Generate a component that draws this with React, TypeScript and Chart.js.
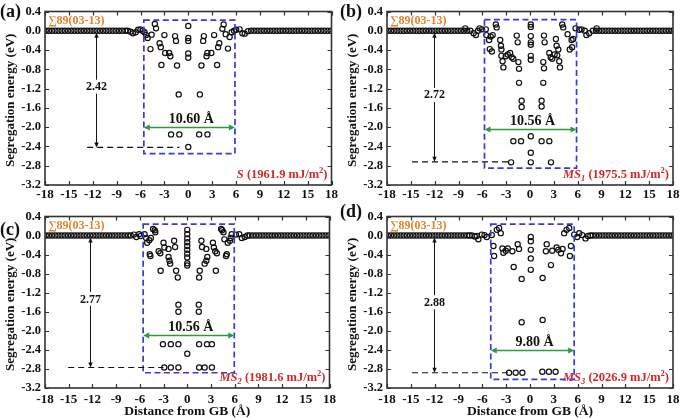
import React, { useEffect, useRef } from "react";
import { Chart, registerables } from "chart.js";
Chart.register(...registerables);

const SERIF = '"Liberation Serif", "Times New Roman", serif';
const BLUE = "#3a3adc";
const GREEN = "#2e9a3c";
const ORANGE = "#e8822a";
const RED = "#d22a2a";

// shared bulk points (far from the GB), energy ~0
const flankLeft: number[][] = [
  [-17.9, 0], [-17.5, 0], [-17.1, 0], [-16.7, 0], [-16.3, 0], [-15.9, 0], [-15.5, 0], [-15.1, 0],
  [-14.7, 0], [-14.3, 0], [-13.9, 0], [-13.5, 0], [-13.1, 0], [-12.7, 0], [-12.3, 0], [-11.9, 0],
  [-11.5, 0], [-11.1, 0], [-10.7, 0], [-10.3, 0], [-9.9, 0], [-9.5, 0], [-9.1, 0], [-8.7, 0],
  [-8.3, 0], [-7.9, 0],
];
const flankRight: number[][] = [
  [7.9, 0], [8.3, 0], [8.7, 0], [9.1, 0], [9.5, 0], [9.9, 0], [10.3, 0], [10.7, 0], [11.1, 0],
  [11.5, 0], [11.9, 0], [12.3, 0], [12.7, 0], [13.1, 0], [13.5, 0], [13.9, 0], [14.3, 0], [14.7, 0],
  [15.1, 0], [15.5, 0], [15.9, 0], [16.3, 0], [16.7, 0], [17.1, 0], [17.5, 0], [17.9, 0],
];

// panel (a) S
const pointsA: number[][] = [
  [-7.6, 0], [-7.25, -0.02], [-6.95, -0.05], [-6.6, -0.03], [-6.3, 0.02], [-6.0, 0.03], [-5.75, 0.0],
  [-5.5, -0.03], [-5.3, -0.09], [-5.1, -0.15], [-4.75, -0.38], [-4.6, -0.08], [-4.2, 0.14], [-4.05, 0.05],
  [-3.6, -0.26], [-3.45, -0.34], [-3.37, -0.71], [-3.0, -0.09], [-2.9, -0.46], [-2.4, -0.46], [-2.25, -0.53],
  [-1.66, -0.11], [-1.54, -0.21], [-1.41, -0.72], [-1.2, -1.32], [-2.16, -2.15], [-1.12, -2.15],
  [0, 0.1], [0, -0.15], [0, -0.21], [0, -0.47], [0, -0.56], [0, -2.41],
  [1.37, -2.15], [2.41, -2.15], [1.46, -1.32], [1.66, -0.72], [1.96, -0.11], [1.87, -0.21],
  [2.3, -0.53], [2.4, -0.46], [2.9, -0.46], [3.25, -0.09], [3.62, -0.71], [3.75, -0.34], [3.9, -0.26],
  [4.45, 0.13], [4.29, 0.04], [4.7, -0.07], [4.99, -0.37], [5.2, -0.13], [5.45, -0.03],
  [5.75, 0.0], [6.03, 0.02], [6.45, 0.03], [6.8, -0.05], [7.1, -0.06], [7.5, -0.01],
];
// panel (b) MS1
const pointsB: number[][] = [
  [-8.15, 0.05], [-7.5, 0], [-7.1, -0.05], [-6.8, -0.09], [-6.55, 0], [-6.35, 0.05], [-6.05, 0.03],
  [-5.56, 0.03], [-5.5, -0.09], [-5.15, -0.19], [-4.95, -0.12], [-4.7, -0.09], [-4.3, 0.13], [-4.2, 0.07],
  [-5.06, -0.38], [-4.8, -0.43], [-3.75, -0.19], [-3.65, -0.31], [-3.6, -0.39], [-3.6, -0.52], [-3.45, -0.63],
  [-3.35, -0.76], [-3.05, -0.53], [-2.8, -0.49], [-2.5, -0.46], [-2.3, -0.55], [-2.1, -0.58],
  [-1.67, -0.1], [-1.55, -0.24], [-1.46, -0.65], [-1.38, -0.79], [-1.38, -1.08], [-1.05, -1.45], [-1.05, -1.58],
  [-2.1, -2.29], [-1.13, -2.29], [-2.38, -2.73],
  [0.1, 0.13], [0.1, 0.08], [0.1, -0.11], [0.1, -0.24], [0.1, -0.29], [0.1, -0.52], [0.1, -0.6],
  [0.1, -2.19], [0.1, -2.53], [0.1, -2.73],
  [1.46, -2.29], [2.43, -2.29], [2.64, -2.73], [1.46, -1.45], [1.46, -1.57], [1.67, -1.08], [1.67, -0.65],
  [1.76, -0.78], [1.76, -0.1], [1.84, -0.24], [2.43, -0.46], [2.6, -0.55], [2.8, -0.58], [3.1, -0.49],
  [3.26, -0.17], [3.35, -0.31], [3.43, -0.51], [3.56, -0.39], [3.68, -0.63], [3.77, -0.76],
  [4.06, 0.13], [4.18, 0.07], [4.73, -0.07], [5.0, -0.39], [5.3, -0.34], [5.23, -0.19], [5.44, -0.17],
  [5.73, 0.05], [6.2, 0.02], [6.5, 0.03], [6.9, 0], [7.1, -0.09], [7.45, -0.05], [8.4, 0.05],
];
// panel (c) MS2
const pointsC: number[][] = [
  [-7.5, 0], [-7.15, 0.0], [-6.75, 0.02], [-6.45, -0.03], [-6.1, 0.03], [-5.9, -0.01],
  [-5.4, 0.03], [-5.2, -0.05], [-5.07, -0.15], [-4.8, -0.1], [-4.6, -0.05], [-4.33, 0.14], [-4.12, 0.11],
  [-4.04, 0.07], [-4.75, -0.39], [-4.66, -0.43], [-3.62, -0.33], [-3.41, -0.37], [-3.0, -0.15], [-2.9, -0.25],
  [-2.37, -0.28], [-2.37, -0.45], [-2.25, -0.53], [-2.16, -0.59], [-3.37, -0.74], [-1.66, -0.11],
  [-1.54, -0.24], [-1.41, -0.74], [-1.2, -0.88], [-1.12, -1.45], [-1.12, -1.6],
  [-3.08, -2.28], [-2.08, -2.28], [-1.12, -2.28], [-2.91, -2.77], [-2.08, -2.77], [-1.12, -2.77],
  [0, 0.12], [0, 0.03], [0, -0.06], [0, -0.14], [0, -0.22], [0, -0.3], [0, -0.38], [0, -0.46],
  [0, -0.58], [0, -0.63], [0, -2.48],
  [1.5, -2.28], [2.5, -2.28], [3.12, -2.28], [1.5, -2.77], [2.2, -2.77], [3.12, -2.77],
  [1.46, -1.45], [1.46, -1.6], [1.58, -0.74], [1.5, -0.88], [1.79, -0.11], [1.87, -0.24],
  [2.41, -0.28], [2.54, -0.45], [2.41, -0.53], [2.2, -0.59], [3.25, -0.15], [3.37, -0.25],
  [3.54, -0.33], [3.75, -0.37], [3.62, -0.74], [5.0, -0.39], [4.9, -0.43], [4.29, 0.14], [4.41, 0.11],
  [4.58, 0.07], [4.7, -0.08], [5.12, -0.15], [5.41, -0.11], [5.62, 0.03], [5.5, -0.05],
  [6.16, 0.02], [6.58, 0.03], [6.9, -0.05], [7.28, -0.03], [7.6, 0],
];
// panel (d) MS3
const pointsD: number[][] = [
  [-7.6, 0], [-7.3, 0.0], [-6.95, -0.02], [-6.7, -0.01], [-6.5, -0.08], [-6.07, 0.02], [-5.73, 0.01],
  [-5.44, -0.03], [-4.81, 0.01], [-4.6, -0.22], [-4.52, -0.43], [-4.18, 0.12], [-3.89, 0.16], [-3.68, 0.05],
  [-3.47, -0.27], [-3.35, -0.36], [-3.05, -0.32], [-2.8, -0.27], [-2.22, -0.33], [-1.55, -0.18],
  [-1.38, -0.28], [-2.05, -0.66], [-1.05, -0.91], [-1.05, -1.82],
  [-2.64, -2.88], [-1.8, -2.88], [-0.96, -2.88],
  [0.1, -0.03], [0.1, -0.12], [0.1, -0.3], [0.1, -0.48], [0.1, -0.72],
  [2.1, -0.18], [2.0, -0.33], [2.64, -0.62], [1.59, -0.89], [1.59, -1.77], [2.8, -0.32], [3.35, -0.25],
  [3.56, -0.3], [3.9, -0.37], [4.1, -0.28], [5.02, -0.43], [5.15, -0.22], [4.6, 0.12], [4.94, 0.16],
  [4.3, 0.05], [5.56, 0.02], [1.55, -2.86], [2.38, -2.86], [3.22, -2.86],
  [5.94, -0.03], [6.2, 0.05], [6.57, 0.01], [6.99, -0.06], [7.3, -0.01], [7.6, 0],
];

// annotations: box [x1, x2, yTop, yBottom]
const boxA = [-5.58, 5.87, 0.22, -2.55];
const boxB = [-5.73, 5.86, 0.23, -2.85];
const boxC = [-5.58, 5.95, 0.24, -2.88];
const boxD = [-4.94, 5.56, 0.24, -3.02];
// width arrow y and its label
const widthYs = [-2.0, -2.03, -2.09, -2.41];
const widthLabels = ["10.60 Å", "10.56 Å", "10.56 Å", "9.80 Å"];
// energy arrow: x, bottom energy, label y
const energyX = [-11.6, -12.13, -12.36, -12.13];
const energyMin = [-2.42, -2.72, -2.77, -2.88];
const energyLabels = ["2.42", "2.72", "2.77", "2.88"];
const energyLabelY = [-1.16, -1.33, -1.33, -1.4];
// dashed level line: x from, x to
const dashFrom = [-12.7, -14.85, -15.06, -14.85];
const dashTo = [-1.12, -2.6, -3.0, -2.7];
const panelTags = ["(a)", "(b)", "(c)", "(d)"];
const gbLabel = "∑89(03-13)";
const structNames = ["S", "MS", "MS", "MS"];
const structSubs = ["", "1", "2", "3"];
const gbEnergies = ["1961.9", "1975.5", "1981.6", "2026.9"];

const xMin = -18, xMax = 18, xStep = 3;
const yMin = -3.2, yMax = 0.4, yStep = 0.4;

type Panel = {
  points: number[][];
  box: number[];
  idx: number;
  left: number; top: number; w: number; h: number;
  padRight: number; padTop: number; yW: number; xH: number; tickPad: number;
  bottom: boolean;
};

const PANELS: Panel[] = [
  { points: pointsA, box: boxA, idx: 0, left: 0, top: 0, w: 340, h: 205, padRight: 7, padTop: 7, yW: 45, xH: 20, tickPad: 2, bottom: false },
  { points: pointsB, box: boxB, idx: 1, left: 340, top: 0, w: 345, h: 205, padRight: 12, padTop: 7, yW: 47, xH: 20, tickPad: 2, bottom: false },
  { points: pointsC, box: boxC, idx: 2, left: 0, top: 205, w: 340, h: 213, padRight: 7, padTop: 5, yW: 45, xH: 30, tickPad: 4, bottom: true },
  { points: pointsD, box: boxD, idx: 3, left: 340, top: 205, w: 345, h: 213, padRight: 12, padTop: 5, yW: 47, xH: 30, tickPad: 4, bottom: true },
];

function arrowHead(ctx: CanvasRenderingContext2D, x: number, y: number, dx: number, dy: number, len: number, half: number) {
  const px = -dy, py = dx;
  ctx.beginPath();
  ctx.moveTo(x, y);
  ctx.lineTo(x - dx * len + px * half, y - dy * len + py * half);
  ctx.lineTo(x - dx * len - px * half, y - dy * len - py * half);
  ctx.closePath();
  ctx.fill();
}

function makeDeco(p: Panel) {
  const i = p.idx;
  return {
    id: "deco" + i,
    afterDatasetsDraw(chart: any) {
      const ctx: CanvasRenderingContext2D = chart.ctx;
      const ca = chart.chartArea;
      const xs = chart.scales.x, ys = chart.scales.y;
      const X = (v: number) => xs.getPixelForValue(v);
      const Y = (v: number) => ys.getPixelForValue(v);
      ctx.save();

      // blue dashed box
      const [bx1, bx2, by1, by2] = p.box;
      ctx.strokeStyle = BLUE;
      ctx.lineWidth = 1.7;
      ctx.setLineDash([6, 3.5]);
      ctx.strokeRect(X(bx1), Y(by1), X(bx2) - X(bx1), Y(by2) - Y(by1));

      // black dashed level line
      ctx.strokeStyle = "#111";
      ctx.lineWidth = 1.1;
      ctx.setLineDash([6, 4]);
      ctx.beginPath();
      ctx.moveTo(X(dashFrom[i]), Y(energyMin[i]));
      ctx.lineTo(X(dashTo[i]), Y(energyMin[i]));
      ctx.stroke();
      ctx.setLineDash([]);

      // vertical energy arrow
      const ex = Math.round(X(energyX[i])) + 0.5;
      const eTop = Y(-0.04), eBot = Y(energyMin[i]);
      ctx.strokeStyle = "#111";
      ctx.fillStyle = "#111";
      ctx.lineWidth = 1;
      ctx.beginPath();
      ctx.moveTo(ex, eTop + 3);
      ctx.lineTo(ex, eBot - 3);
      ctx.stroke();
      arrowHead(ctx, ex, eTop, 0, -1, 5, 2.2);
      arrowHead(ctx, ex, eBot, 0, 1, 5, 2.2);
      ctx.font = `bold 12px ${SERIF}`;
      ctx.textAlign = "center";
      ctx.textBaseline = "middle";
      const ely = Y(energyLabelY[i]);
      const tw = ctx.measureText(energyLabels[i]).width;
      ctx.fillStyle = "#fff";
      ctx.fillRect(ex - tw / 2 - 1, ely - 7, tw + 2, 14);
      ctx.fillStyle = "#111";
      ctx.fillText(energyLabels[i], ex, ely + 0.5);

      // green width arrow
      const gy = Math.round(Y(widthYs[i])) + 0.5;
      const gx1 = X(bx1), gx2 = X(bx2);
      ctx.strokeStyle = GREEN;
      ctx.fillStyle = GREEN;
      ctx.lineWidth = 1.5;
      ctx.beginPath();
      ctx.moveTo(gx1 + 4, gy);
      ctx.lineTo(gx2 - 4, gy);
      ctx.stroke();
      arrowHead(ctx, gx1, gy, -1, 0, 6, 3);
      arrowHead(ctx, gx2, gy, 1, 0, 6, 3);
      ctx.fillStyle = "#111";
      ctx.font = `bold 14px ${SERIF}`;
      ctx.textAlign = "center";
      ctx.textBaseline = "alphabetic";
      ctx.fillText(widthLabels[i], (gx1 + gx2) / 2 + 2, gy - 5);

      // orange GB label
      ctx.fillStyle = ORANGE;
      ctx.font = `bold 12px ${SERIF}`;
      ctx.textAlign = "left";
      ctx.textBaseline = "middle";
      ctx.fillText(gbLabel, ca.left + 3, ca.top + 9);

      // red structure label, right aligned
      const segs: { t: string; it?: boolean; sub?: boolean; sup?: boolean }[] = [
        { t: structNames[i], it: true },
      ];
      if (structSubs[i]) segs.push({ t: structSubs[i], it: true, sub: true });
      segs.push({ t: " (" + gbEnergies[i] + " mJ/m" });
      segs.push({ t: "2", sup: true });
      segs.push({ t: ")" });
      const fontOf = (s: any) =>
        `${s.it ? "italic " : ""}bold ${s.sub || s.sup ? 8.5 : 12.5}px ${SERIF}`;
      let total = 0;
      for (const s of segs) {
        ctx.font = fontOf(s);
        total += ctx.measureText(s.t).width;
      }
      let cx = ca.right - 4 - total;
      const ry = ca.bottom - 7;
      ctx.fillStyle = RED;
      ctx.textAlign = "left";
      ctx.textBaseline = "alphabetic";
      for (const s of segs) {
        ctx.font = fontOf(s);
        const yy = s.sub ? ry + 3 : s.sup ? ry - 5 : ry;
        ctx.fillText(s.t, cx, yy);
        cx += ctx.measureText(s.t).width;
      }

      // frame
      ctx.strokeStyle = "#333";
      ctx.lineWidth = 1.6;
      ctx.strokeRect(ca.left, ca.top, ca.right - ca.left, ca.bottom - ca.top);
      // inside ticks on all four sides
      ctx.lineWidth = 1.2;
      ctx.beginPath();
      for (const t of xs.ticks) {
        const px = Math.round(X(t.value)) + 0.5;
        ctx.moveTo(px, ca.bottom);
        ctx.lineTo(px, ca.bottom - 4);
        ctx.moveTo(px, ca.top);
        ctx.lineTo(px, ca.top + 4);
      }
      for (const t of ys.ticks) {
        const py = Math.round(Y(t.value)) + 0.5;
        ctx.moveTo(ca.left, py);
        ctx.lineTo(ca.left + 4, py);
        ctx.moveTo(ca.right, py);
        ctx.lineTo(ca.right - 4, py);
      }
      ctx.stroke();

      // axis titles
      ctx.fillStyle = "#111";
      ctx.font = `bold 13px ${SERIF}`;
      ctx.textAlign = "center";
      ctx.textBaseline = "middle";
      ctx.save();
      ctx.translate(ca.left - 34, (ca.top + ca.bottom) / 2 + 2);
      ctx.rotate(-Math.PI / 2);
      ctx.fillText("Segregation energy (eV)", 0, 0);
      ctx.restore();
      if (p.bottom) {
        ctx.font = `bold 13.5px ${SERIF}`;
        ctx.fillText("Distance from GB (Å)", (ca.left + ca.right) / 2, ca.bottom + 24);
      }
      ctx.restore();
    },
  };
}

function PanelChart({ p }: { p: Panel }) {
  const ref = useRef<HTMLCanvasElement>(null);
  useEffect(() => {
    const canvas = ref.current!;
    const data = [...flankLeft, ...p.points, ...flankRight].map(([x, y]) => ({ x, y }));
    const chart = new Chart(canvas, {
      type: "scatter",
      data: {
        datasets: [
          {
            data,
            pointRadius: 2.6,
            pointHoverRadius: 2.6,
            pointBorderWidth: 1.2,
            borderColor: "#111",
            backgroundColor: "rgba(0,0,0,0)",
            pointStyle: "circle",
            showLine: false,
          },
        ],
      },
      options: {
        animation: false,
        responsive: false,
        devicePixelRatio: 1,
        events: [],
        layout: { padding: { left: 0, right: p.padRight, top: p.padTop, bottom: 0 } },
        plugins: { legend: { display: false }, tooltip: { enabled: false } },
        scales: {
          x: {
            type: "linear",
            min: xMin,
            max: xMax,
            afterFit: (s: any) => { s.height = p.xH; },
            grid: { display: false, drawTicks: false },
            border: { display: false },
            ticks: {
              stepSize: xStep,
              padding: p.tickPad,
              color: "#111",
              font: { family: SERIF, weight: "bold", size: 13 },
              maxRotation: 0,
              autoSkip: false,
              callback: (v: any) => String(Math.round(Number(v))),
            },
          },
          y: {
            type: "linear",
            min: yMin,
            max: yMax,
            afterFit: (s: any) => { s.width = p.yW; },
            grid: { display: false, drawTicks: false },
            border: { display: false },
            ticks: {
              stepSize: yStep,
              padding: 4,
              color: "#111",
              font: { family: SERIF, weight: "bold", size: 12.5 },
              autoSkip: false,
              callback: (v: any) => Number(v).toFixed(1),
            },
          },
        },
      },
      plugins: [makeDeco(p)],
    } as any);
    return () => chart.destroy();
  }, [p]);
  return (
    <canvas
      ref={ref}
      width={p.w}
      height={p.h}
      style={{ position: "absolute", left: p.left, top: p.top, width: p.w, height: p.h, display: "block" }}
    />
  );
}

const tagPos = [
  { left: 0, top: 2 },
  { left: 340, top: 2 },
  { left: 0, top: 220 },
  { left: 340, top: 202 },
];

export default function App() {
  return (
    <div style={{ position: "absolute", left: 0, top: 0, width: 685, height: 418, background: "#fff", overflow: "hidden" }}>
      {PANELS.map((p) => (
        <PanelChart key={p.idx} p={p} />
      ))}
      {panelTags.map((t, k) => (
        <div
          key={t}
          style={{
            position: "absolute",
            left: tagPos[k].left,
            top: tagPos[k].top,
            fontFamily: SERIF,
            fontWeight: "bold",
            fontSize: 18,
            lineHeight: "18px",
            color: "#111",
          }}
        >
          {t}
        </div>
      ))}
    </div>
  );
}
